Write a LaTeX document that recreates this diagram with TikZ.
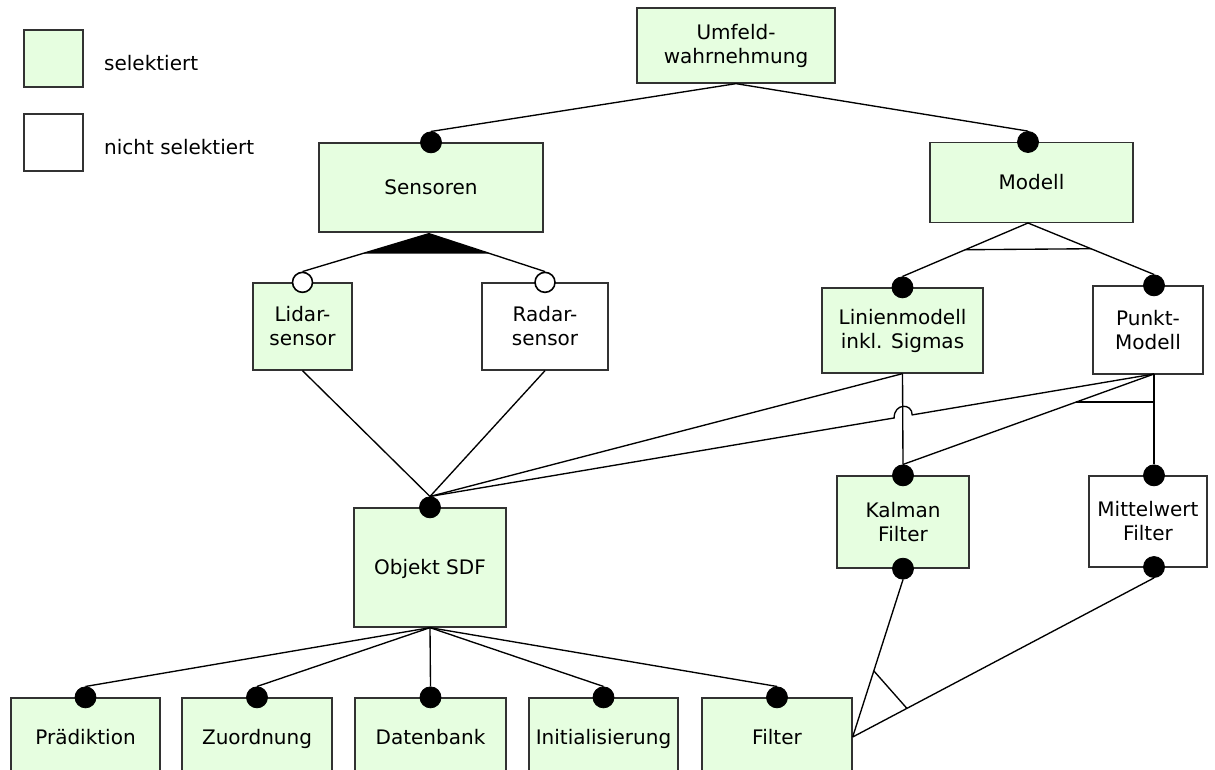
\documentclass[tikz,border=0pt]{standalone}
\usepackage{fontspec}
\setmainfont{DejaVu Sans}
\usetikzlibrary{calc}
\definecolor{selgreen}{RGB}{230,254,224}
\definecolor{boxline}{RGB}{50,50,50}
\tikzset{
  feat/.style={draw=boxline, line width=1.3pt, rectangle, inner sep=0pt,
    align=center, font=\fontsize{20}{24}\selectfont},
  sel/.style={feat, fill=selgreen},
  nsel/.style={feat, fill=white},
  oneline/.style={text height=16pt, text depth=2pt},
  dot/.style={circle, fill=black, draw=black, line width=0.8pt, minimum size=21pt, inner sep=0pt},
  odot/.style={circle, fill=white, draw=black, line width=1.6pt, minimum size=20pt, inner sep=0pt},
  conn/.style={line width=1.35pt, black},
  legtext/.style={anchor=west, inner sep=0pt, font=\fontsize{20}{24}\selectfont}
}
\begin{document}
\begin{tikzpicture}[x=1pt, y=-1pt]
\useasboundingbox (0,0) rectangle (1215,769);
\clip (0,0) rectangle (1215,769);

% legend
\node[sel, minimum width=59pt, minimum height=57pt] (legS) at (53.5,58.5) {};
\node[nsel, minimum width=59pt, minimum height=57pt] (legN) at (53.5,142.5) {};
\node[legtext] (legSt) at (104,63) {selektiert};
\node[legtext] (legNt) at (104,147) {nicht selektiert};

% feature boxes
\node[sel, minimum width=198pt, minimum height=75pt] (U) at (736,45.5) {Umfeld-\\wahrnehmung};
\node[sel, oneline, minimum width=224pt, minimum height=89pt] (S) at (431,187.5) {Sensoren};
\node[sel, oneline, minimum width=203pt, minimum height=80pt] (M) at (1031.5,182.5) {Modell};
\node[sel, minimum width=99pt, minimum height=87pt] (Li) at (302.5,326.5) {Lidar-\\sensor};
\node[nsel, minimum width=126pt, minimum height=87pt] (Ra) at (545,326.5) {Radar-\\sensor};
\node[sel, minimum width=161pt, minimum height=85pt] (LM) at (902.5,330.5) {Linienmodell\\inkl. Sigmas};
\node[nsel, minimum width=110pt, minimum height=88pt] (PM) at (1148,330) {Punkt-\\Modell};
\node[sel, oneline, minimum width=152pt, minimum height=119pt] (O) at (430,567.5) {Objekt SDF};
\node[sel, minimum width=132pt, minimum height=92pt] (K) at (903,522) {Kalman\\Filter};
\node[nsel, minimum width=118pt, minimum height=91pt] (MW) at (1148,521.5) {Mittelwert\\Filter};

\node[sel, oneline, minimum width=149pt, minimum height=78pt] (P1) at (85.5,737) {Prädiktion};
\node[sel, oneline, minimum width=150pt, minimum height=78pt] (P2) at (257,737) {Zuordnung};
\node[sel, oneline, minimum width=151pt, minimum height=78pt] (P3) at (430.5,737) {Datenbank};
\node[sel, oneline, minimum width=149pt, minimum height=78pt] (P4) at (603.5,737) {Initialisierung};
\node[sel, oneline, minimum width=150pt, minimum height=78pt] (P5) at (777,737) {Filter};

% connection points
\coordinate (pPM) at (1154,374);
\coordinate (pMW) at (1154,567);

% connector dots
\node[dot] (cS) at (S.north) {};
\node[dot] (cM) at (1028,142) {};
\node[odot] (cL) at (Li.north) {};
\node[odot] (cR) at (Ra.north) {};
\node[dot] (cLM) at (LM.north) {};
\node[dot] (cPM) at (pPM |- PM.north) {};
\node[dot] (cO) at (O.north) {};
\node[dot] (cK) at (K.north) {};
\node[dot] (cMW) at (pMW |- MW.north) {};
\node[dot] (cKb) at (K.south) {};
\node[dot] (cMWb) at (pMW) {};
\node[dot] (c1) at (P1.north) {};
\node[dot] (c2) at (P2.north) {};
\node[dot] (c3) at (P3.north) {};
\node[dot] (c4) at (P4.north) {};
\node[dot] (c5) at (P5.north) {};

% root
\draw[conn] (U.south) -- (cS.north);
\draw[conn] (U.south) -- (cM.north);

% sensors: or-group
\coordinate (sApex) at ($(S.south)+(-2,1)$);
\fill (sApex) -- ($(sApex)!0.53!(cL.north)$) -- ($(sApex)!0.53!(cR.north)$) -- cycle;
\draw[conn] (sApex) -- (cL.north);
\draw[conn] (sApex) -- (cR.north);

% model: alternative group
\coordinate (mApex) at (1028,223);
\draw[conn] (mApex) -- (cLM.north);
\draw[conn] (mApex) -- (cPM.north);
\draw[conn] ($(mApex)!0.5!(cLM.north)$) -- ($(mApex)!0.5!(cPM.north)$);

% sensors to Objekt SDF
\draw[conn] (Li.south) -- (cO.north);
\draw[conn] (Ra.south) -- (cO.north);

% models to Objekt SDF and filters
\draw[conn] (LM.south) -- (cO.north);
\draw[conn] (LM.south) -- (cK.north);
\coordinate (hopR) at ($(pPM)!0.334!(cO.north)$);
\coordinate (hopL) at ($(pPM)!0.359!(cO.north)$);
\draw[conn] (pPM) -- (hopR) .. controls ($(hopR)+(0,-12)$) and ($(hopL)+(0,-15)$) .. (hopL) -- (cO.north);
\draw[conn] (pPM) -- (cK.north);
\draw[conn] (pPM) -- (cMW.north);
\draw[conn] ($(pPM)!0.31!(cK.north)$) -- ($(pPM)!0.31!(cMW.north)$);

% Objekt SDF children
\foreach \c in {c1,c2,c3,c4,c5} \draw[conn] (O.south) -- (\c.north);

% filter: alternative group
\draw[conn] (P5.east) -- (cKb.south);
\draw[conn] (P5.east) -- (cMWb.south);
\draw[conn] ($(P5.east)!0.42!(cKb.south)$) -- ($(P5.east)!0.18!(cMWb.south)$);

\end{tikzpicture}
\end{document}
